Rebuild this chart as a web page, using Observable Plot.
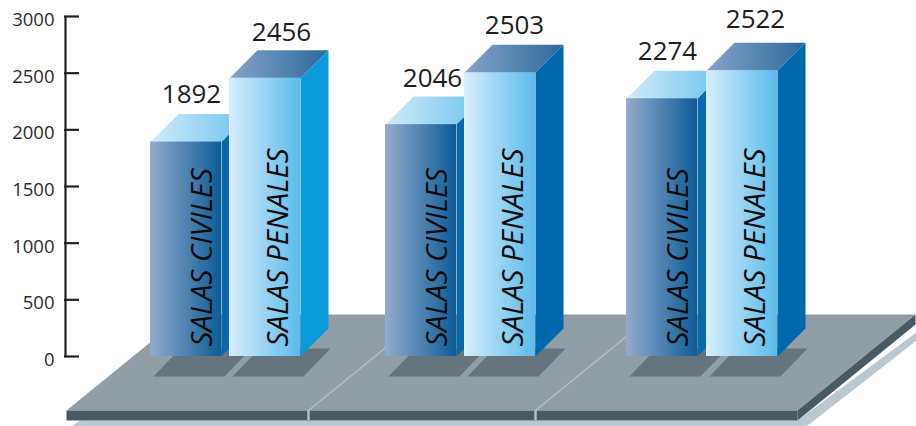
<!DOCTYPE html>
<html><head><meta charset="utf-8">
<script src="https://cdn.jsdelivr.net/npm/d3@7"></script>
<script src="https://cdn.jsdelivr.net/npm/@observablehq/plot@0.6"></script>
<style>html,body{margin:0;padding:0;background:#fff;overflow:hidden}svg{display:block}</style>
</head><body><div id="chart"></div>
<script>
const civiles = [1892, 2046, 2274];
const penales = [2456, 2503, 2522];
const civilLabel = "SALAS CIVILES";
const penalLabel = "SALAS PENALES";
const yTicks = [0, 500, 1000, 1500, 2000, 2500, 3000];

// layout (pixels on the x scale, which is 1:1 with the page)
const W = 916, H = 426, baseY = 356, pxPerUnit = 340 / 3000;
const civilLeft = [150, 385, 626], penalLeft = [229, 464, 706];
const barW = 71, depth = 28;
const civilLabelX = [191, 432, 667], penalLabelX = [281, 514, 755];
const civilLabelGap = [11, 10, 11], penalLabelGap = [9, 11, 15];
const penalSide = ["#0a9ada", "#0068ad", "#0068ad"];
const v = p => (baseY - p) / pxPerUnit; // page y -> value

function gradient(id, a, b) {
  return `<linearGradient id="${id}" x1="0" x2="1" y1="0" y2="0"><stop offset="0" stop-color="${a}"/><stop offset="1" stop-color="${b}"/></linearGradient>`;
}
const defs = () => {
  const g = document.createElementNS("http://www.w3.org/2000/svg", "defs");
  g.innerHTML = gradient("cf", "#93abcd", "#0d5c96") + gradient("ct", "#d2eafa", "#6cc3ec")
              + gradient("pf", "#d8edfc", "#5bbbeb") + gradient("pt", "#87a3c8", "#2a6a9d");
  return g;
};
const poly = (pts, fill) => Plot.line(pts, {x: d => d[0], y: d => d[1], fill, stroke: "none", curve: "linear-closed"});
const pg = pts => pts.map(([x, y]) => [x, v(y)]);

function bar(x0, value, front, top, side) {
  const x1 = x0 + barW, d = depth, dv = depth / pxPerUnit;
  return [
    poly([[x0, value], [x1, value], [x1 + d, value + dv], [x0 + d, value + dv]], top),
    poly([[x1, 0], [x1 + d, dv], [x1 + d, value + dv], [x1, value]], side),
    Plot.rectY([value], {x1: x0, x2: x1, y1: 0, y2: d => d, fill: front})
  ];
}
const shadow = x0 => poly(pg([[x0 + 3, 376], [x0 + barW + 3, 376], [x0 + barW + 30, 348], [x0 + 30, 348]]), "#66757d");
const seam = x => Plot.line(pg([[x, 410], [x + 118, 314]]), {x: d => d[0], y: d => d[1], stroke: "#b4bec4", strokeWidth: 1.5});

const marks = [
  defs,
  poly(pg([[70, 426], [80, 420], [797, 420], [916, 332], [916, 340], [806, 426]]), "#bcc8cf"),
  poly(pg([[66, 410], [797, 410], [915, 314], [184, 314]]), "#929ea6"),
  poly(pg([[66, 410], [797, 410], [797, 420], [66, 420]]), "#485a64"),
  poly(pg([[797, 410], [915, 314], [915, 324], [797, 420]]), "#485a64"),
  seam(308), seam(535),
  Plot.ruleX([308, 535], {y1: v(410), y2: v(420), stroke: "#b4bec4", strokeWidth: 2.5}),
  ...civilLeft.flatMap((x, i) => [shadow(x), shadow(penalLeft[i])]),
  ...civiles.flatMap((val, i) => [
    ...bar(civilLeft[i], val, "url(#cf)", "url(#ct)", "#0a69a8"),
    ...bar(penalLeft[i], penales[i], "url(#pf)", "url(#pt)", penalSide[i])
  ]),
  Plot.text(civiles, {x: (d, i) => civilLeft[i] + 52, y: v(346), text: () => civilLabel, rotate: -90, textAnchor: "start", lineAnchor: "middle", fontSize: 29.5, fontStyle: "italic", fontFamily: "Open Sans", fill: "#0b0b0b"}),
  Plot.text(penales, {x: (d, i) => penalLeft[i] + 49, y: v(346), text: () => penalLabel, rotate: -90, textAnchor: "start", lineAnchor: "middle", fontSize: 29.5, fontStyle: "italic", fontFamily: "Open Sans", fill: "#0b0b0b"}),
  Plot.text(civiles, {x: (d, i) => civilLabelX[i], y: (d, i) => d + (depth + civilLabelGap[i]) / pxPerUnit, text: d => String(d), lineAnchor: "bottom", fontSize: 26, fontFamily: "Open Sans", fill: "#1d1d1b"}),
  Plot.text(penales, {x: (d, i) => penalLabelX[i], y: (d, i) => d + (depth + penalLabelGap[i]) / pxPerUnit, text: d => String(d), lineAnchor: "bottom", fontSize: 26, fontFamily: "Open Sans", fill: "#1d1d1b"}),
  Plot.ruleX([65], {y1: 0, y2: 3000, stroke: "#222", strokeWidth: 2.2}),
  Plot.ruleY(yTicks, {x1: 64, x2: 79, stroke: "#222", strokeWidth: 2.2}),
  Plot.axisY(yTicks, {anchor: "left", tickSize: 0, tickPadding: 0, dx: 54, dy: 3.5, label: null, tickFormat: d => String(d), fontSize: 18.5, fontFamily: "Open Sans", fill: "#2b2b2b"})
];

const chart = Plot.plot({
  width: W, height: H, margin: 0,
  x: {type: "linear", domain: [0, W], range: [0, W], axis: null},
  y: {type: "linear", domain: [v(H), v(0)], range: [H, 0], axis: null},
  style: {background: "#fff", overflow: "visible"},
  marks
});
document.getElementById("chart").append(chart);
</script></body></html>
